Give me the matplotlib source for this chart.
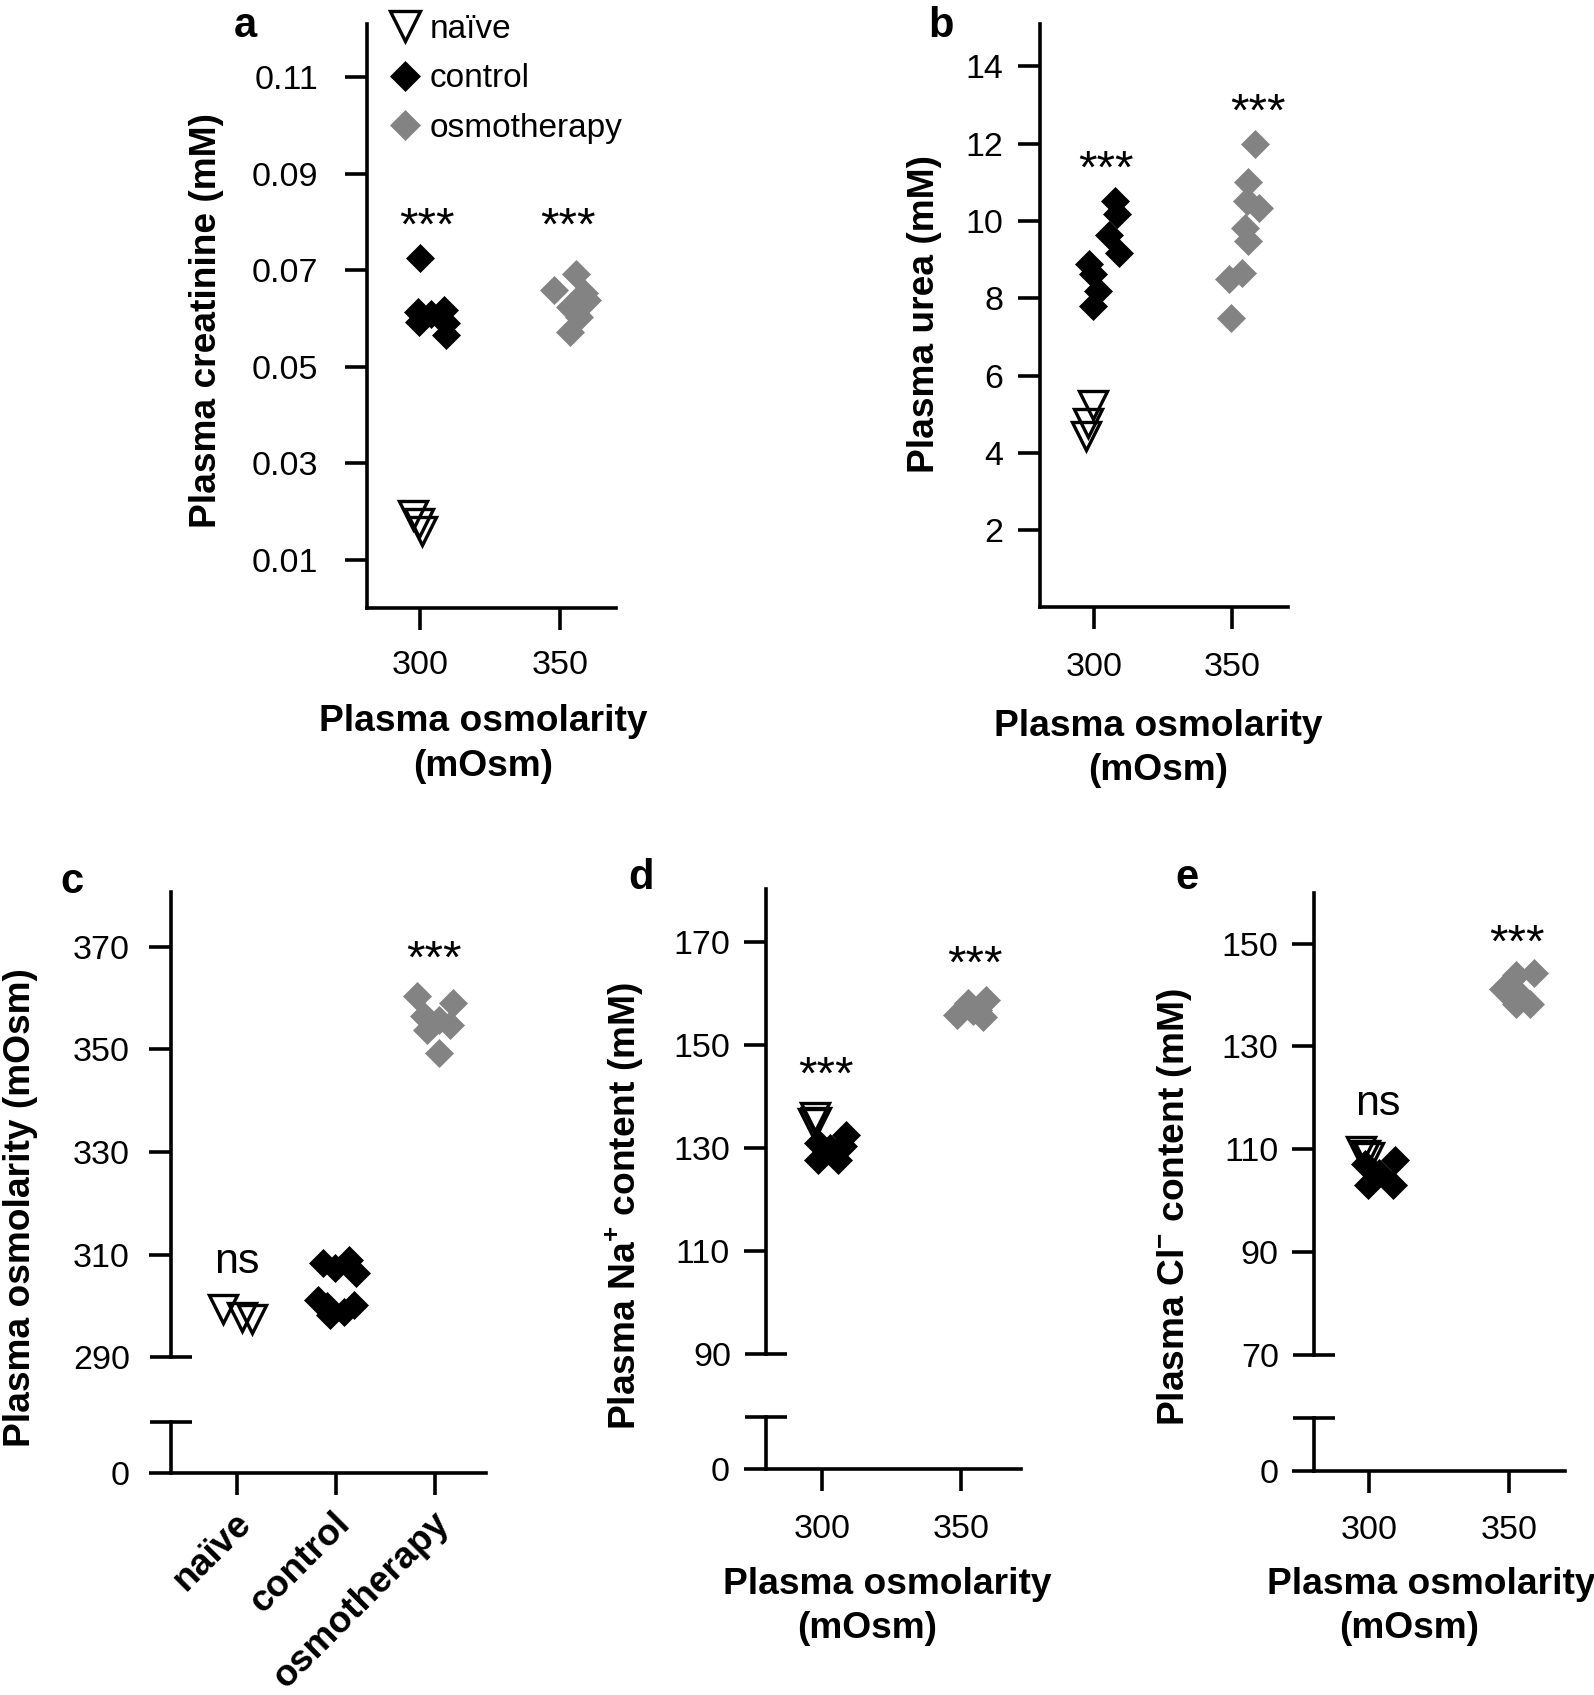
import numpy as np
import matplotlib
matplotlib.use('Agg')
import matplotlib.pyplot as plt
from matplotlib.lines import Line2D
from matplotlib.ticker import FixedLocator, FixedFormatter, NullFormatter
from matplotlib.transforms import ScaledTranslation

plt.rcParams['font.family'] = ['Liberation Sans', 'DejaVu Sans']
plt.rcParams['mathtext.fontset'] = 'custom'
plt.rcParams['mathtext.rm'] = 'Liberation Sans'
plt.rcParams['mathtext.bf'] = 'Liberation Sans:bold'

W, H = 1594, 1695
GRAY = '#838383'
LW = 2.6
TICK_FS = 24.5
LAB_FS = 26.7
ANN_FS = 34

# ---- data ----
# a: plasma creatinine (mM) vs plasma osmolarity
a_naive_x = [297.5, 299.5, 300.5]
a_naive_y = [0.0192, 0.0176, 0.0159]
a_ctrl_x = [300.0, 299.3, 303.8, 308.5, 299.6, 309.1, 309.4]
a_ctrl_y = [0.0725, 0.0614, 0.0610, 0.0617, 0.0593, 0.0590, 0.0566]
a_osmo_x = [355.7, 348.0, 358.4, 359.6, 353.6, 356.6, 353.4]
a_osmo_y = [0.0693, 0.0659, 0.0652, 0.0638, 0.0624, 0.0603, 0.0572]
a_yticks = [0.01, 0.03, 0.05, 0.07, 0.09, 0.11]

# b: plasma urea (mM)
b_naive_x = [299.8, 298.0, 297.2]
b_naive_y = [5.25, 4.78, 4.43]
b_ctrl_x = [307.7, 308.5, 305.6, 309.3, 298.4, 299.9, 301.7, 299.6]
b_ctrl_y = [10.51, 10.17, 9.65, 9.16, 8.88, 8.62, 8.19, 7.80]
b_osmo_x = [358.3, 355.9, 355.3, 359.8, 354.8, 355.9, 353.5, 348.7, 349.5]
b_osmo_y = [12.0, 11.0, 10.51, 10.34, 9.83, 9.48, 8.66, 8.49, 7.48]
b_yticks = [2, 4, 6, 8, 10, 12, 14]

# c: plasma osmolarity per group (x = group position incl. jitter)
c_groups = ['naïve', 'control', 'osmotherapy']
c_naive_x = [-0.14, 0.05, 0.15]
c_naive_y = [299.5, 297.8, 297.4]
c_ctrl_x = [0.87, 1.13, 1.20, 0.99, 0.82, 0.94, 1.08, 1.18, 0.91]
c_ctrl_y = [308.3, 309.0, 306.4, 307.3, 301.2, 298.2, 298.9, 300.2, 299.9]
c_osmo_x = [1.82, 2.19, 1.89, 2.04, 2.16, 1.92, 2.04]
c_osmo_y = [360.3, 359.0, 356.4, 355.7, 354.8, 353.8, 349.3]
c_yticks = [310, 330, 350, 370]

# d: plasma Na+ (mM)
d_naive_x = [297.5, 298.1, 296.9]
d_naive_y = [136.0, 135.1, 134.8]
d_ctrl_x = [308.6, 298.7, 302.9, 298.7, 305.9, 307.7]
d_ctrl_y = [132.5, 130.9, 130.0, 127.7, 127.7, 130.3]
d_osmo_x = [348.5, 352.6, 354.4, 359.2, 358.0, 356.2]
d_osmo_y = [155.8, 158.1, 156.5, 158.7, 155.4, 156.8]
d_yticks = [110, 130, 150, 170]

# e: plasma Cl- (mM)
e_naive_x = [297.0, 298.4, 299.9]
e_naive_y = [109.7, 108.9, 108.4]
e_ctrl_x = [309.1, 298.4, 303.7, 299.6, 308.5]
e_ctrl_y = [108.0, 107.2, 105.3, 103.0, 103.0]
e_osmo_x = [352.5, 359.0, 348.0, 353.1, 357.5, 352.5]
e_osmo_y = [143.8, 144.2, 141.1, 140.3, 138.2, 138.3]
e_yticks = [90, 110, 130, 150]

osm_xticks = [300, 350]

fig = plt.figure(figsize=(W / 100, H / 100), dpi=100)


def add_ax(l, t, r, b):
    return fig.add_axes([l / W, 1 - b / H, (r - l) / W, (b - t) / H])


def style(ax, ypad=10, xpad=14):
    for s in ['top', 'right']:
        ax.spines[s].set_visible(False)
    for s in ['left', 'bottom']:
        ax.spines[s].set_linewidth(LW)
    ax.tick_params(which='major', direction='out', length=16, width=LW,
                   labelsize=TICK_FS, color='k')
    ax.tick_params(axis='y', which='major', pad=ypad)
    ax.tick_params(axis='x', which='major', pad=xpad)
    ax.patch.set_visible(False)


def groups(ax, nx, ny, cx, cy, ox, oy):
    ax.plot(nx, ny, ls='none', marker='v', ms=20, mfc='none', mec='k',
            mew=2.4, clip_on=False, zorder=3)
    ax.plot(cx, cy, ls='none', marker='D', ms=14.5, mfc='k', mec='k',
            mew=0.5, clip_on=False, zorder=4)
    ax.plot(ox, oy, ls='none', marker='D', ms=14.5, mfc=GRAY, mec=GRAY,
            mew=0.5, clip_on=False, zorder=5)


def broken(top, bot, lo, ytick_vals, ypad):
    # upper part of a broken y axis plus the short stub that holds 0
    style(top, ypad=ypad)
    top.spines['bottom'].set_visible(False)
    top.tick_params(axis='x', which='both', bottom=False, labelbottom=False)
    top.set_yticks(ytick_vals)
    top.yaxis.set_minor_locator(FixedLocator([lo]))
    top.yaxis.set_minor_formatter(FixedFormatter([str(lo)]))
    top.tick_params(axis='y', which='minor', direction='inout', length=30,
                    width=LW, labelsize=TICK_FS, pad=ypad)
    style(bot, ypad=ypad)
    bot.set_ylim(0, 10)
    bot.set_yticks([0])
    bot.yaxis.set_minor_locator(FixedLocator([10]))
    bot.yaxis.set_minor_formatter(NullFormatter())
    bot.tick_params(axis='y', which='minor', direction='inout', length=30,
                    width=LW)


def fig_text(x, y, s, **kw):
    fig.text(x / W, 1 - y / H, s, **kw)


def osm_label(x1, y1, x2, y2):
    fig_text(x1, y1, 'Plasma osmolarity', ha='center', va='center',
             fontsize=LAB_FS, fontweight='bold')
    fig_text(x2, y2, '(mOsm)', ha='center', va='center', fontsize=LAB_FS,
             fontweight='bold')


# ---- a ----
ax = add_ax(367, 24, 616, 608)
style(ax, ypad=19, xpad=14)
groups(ax, a_naive_x, a_naive_y, a_ctrl_x, a_ctrl_y, a_osmo_x, a_osmo_y)
ax.set_xlim(281, 370)
ax.set_ylim(0, 0.121)
ax.set_xticks(osm_xticks)
ax.set_yticks(a_yticks)
ax.set_yticklabels([f'{v:.2f}' for v in a_yticks])
ax.text(302.6, 0.0763, '***', ha='center', va='baseline', fontsize=ANN_FS)
ax.text(352.7, 0.0763, '***', ha='center', va='baseline', fontsize=ANN_FS)
handles = [
    Line2D([], [], ls='none', marker='v', ms=21, mfc='none', mec='k', mew=2.4),
    Line2D([], [], ls='none', marker='D', ms=15, mfc='k', mec='k', mew=0.5),
    Line2D([], [], ls='none', marker='D', ms=15, mfc=GRAY, mec=GRAY, mew=0.5),
]
ax.legend(handles, ['naïve', 'control', 'osmotherapy'], loc='upper left',
          bbox_to_anchor=(388 / W, 1 - 14 / H), bbox_transform=fig.transFigure,
          frameon=False, borderpad=0, borderaxespad=0, handlelength=1.0,
          handletextpad=0.25, labelspacing=0.55, fontsize=24)
fig_text(207, 321, 'Plasma creatinine (mM)', rotation=90, ha='center',
         va='center', fontsize=LAB_FS, fontweight='bold')
osm_label(483.6, 722, 483, 767)
fig_text(245, 26, 'a', ha='center', va='center', fontsize=30, fontweight='bold')

# ---- b ----
ax = add_ax(1039.5, 24, 1288, 607.4)
style(ax, ypad=10, xpad=16)
groups(ax, b_naive_x, b_naive_y, b_ctrl_x, b_ctrl_y, b_osmo_x, b_osmo_y)
ax.set_xlim(280.4, 370.2)
ax.set_ylim(0, 15.1)
ax.set_xticks(osm_xticks)
ax.set_yticks(b_yticks)
ax.text(304.5, 11.0, '***', ha='center', va='baseline', fontsize=ANN_FS)
ax.text(359.4, 12.47, '***', ha='center', va='baseline', fontsize=ANN_FS)
fig_text(924, 314, 'Plasma urea (mM)', rotation=90, ha='center', va='center',
         fontsize=LAB_FS, fontweight='bold')
osm_label(1158.5, 727, 1158, 771)
fig_text(941, 26, 'b', ha='center', va='center', fontsize=30, fontweight='bold')

# ---- c ----
top = add_ax(171, 891.7, 486, 1357.3)
bot = add_ax(171, 1421.7, 486, 1473.3)
broken(top, bot, 290, c_yticks, 14)
groups(top, c_naive_x, c_naive_y, c_ctrl_x, c_ctrl_y, c_osmo_x, c_osmo_y)
for a_ in (top, bot):
    a_.set_xlim(-0.67, 2.52)
top.set_ylim(290, 380.7)
bot.set_xticks(range(len(c_groups)))
bot.set_xticklabels(c_groups, rotation=45, ha='right', va='center',
                    rotation_mode='anchor', fontweight='bold', fontsize=LAB_FS)
bot.tick_params(axis='x', pad=16)
shift = ScaledTranslation(9 / 100, 0, fig.dpi_scale_trans)
for lab in bot.get_xticklabels():
    lab.set_transform(lab.get_transform() + shift)
top.text(0.0, 306.5, 'ns', ha='center', va='baseline', fontsize=ANN_FS - 3)
top.text(1.99, 364.9, '***', ha='center', va='baseline', fontsize=ANN_FS)
fig_text(21, 1208, 'Plasma osmolarity (mOsm)', rotation=90, ha='center',
         va='center', fontsize=LAB_FS, fontweight='bold')
fig_text(72, 882, 'c', ha='center', va='center', fontsize=30, fontweight='bold')

# ---- d ----
top = add_ax(766, 889, 1021, 1354)
bot = add_ax(766, 1416.7, 1021, 1469.3)
broken(top, bot, 90, d_yticks, 10)
groups(top, d_naive_x, d_naive_y, d_ctrl_x, d_ctrl_y, d_osmo_x, d_osmo_y)
for a_ in (top, bot):
    a_.set_xlim(280, 371.6)
top.set_ylim(90, 180.2)
bot.set_xticks(osm_xticks)
bot.tick_params(axis='x', pad=16)
top.text(301.5, 141.5, '***', ha='center', va='baseline', fontsize=ANN_FS)
top.text(355.2, 163.0, '***', ha='center', va='baseline', fontsize=ANN_FS)
fig_text(625, 1206, r'Plasma Na$^{\mathbf{+}}$ content (mM)', rotation=90,
         ha='center', va='center', fontsize=LAB_FS, fontweight='bold')
osm_label(887, 1585, 867, 1629)
fig_text(641, 878, 'd', ha='center', va='center', fontsize=30, fontweight='bold')

# ---- e ----
top = add_ax(1314.3, 892.6, 1565, 1355)
bot = add_ax(1314.3, 1418.3, 1565, 1471)
broken(top, bot, 70, e_yticks, 10)
groups(top, e_naive_x, e_naive_y, e_ctrl_x, e_ctrl_y, e_osmo_x, e_osmo_y)
for a_ in (top, bot):
    a_.set_xlim(280.4, 370)
top.set_ylim(70, 159.9)
bot.set_xticks(osm_xticks)
bot.tick_params(axis='x', pad=16)
top.text(303, 116.7, 'ns', ha='center', va='baseline', fontsize=ANN_FS - 3)
top.text(353, 147.5, '***', ha='center', va='baseline', fontsize=ANN_FS)
fig_text(1174, 1207, r'Plasma Cl$^{\mathbf{-}}$ content (mM)', rotation=90,
         ha='center', va='center', fontsize=LAB_FS, fontweight='bold')
osm_label(1431, 1585, 1409, 1629)
fig_text(1187, 878, 'e', ha='center', va='center', fontsize=30, fontweight='bold')

fig.savefig('out.png', dpi=100, facecolor='white')
